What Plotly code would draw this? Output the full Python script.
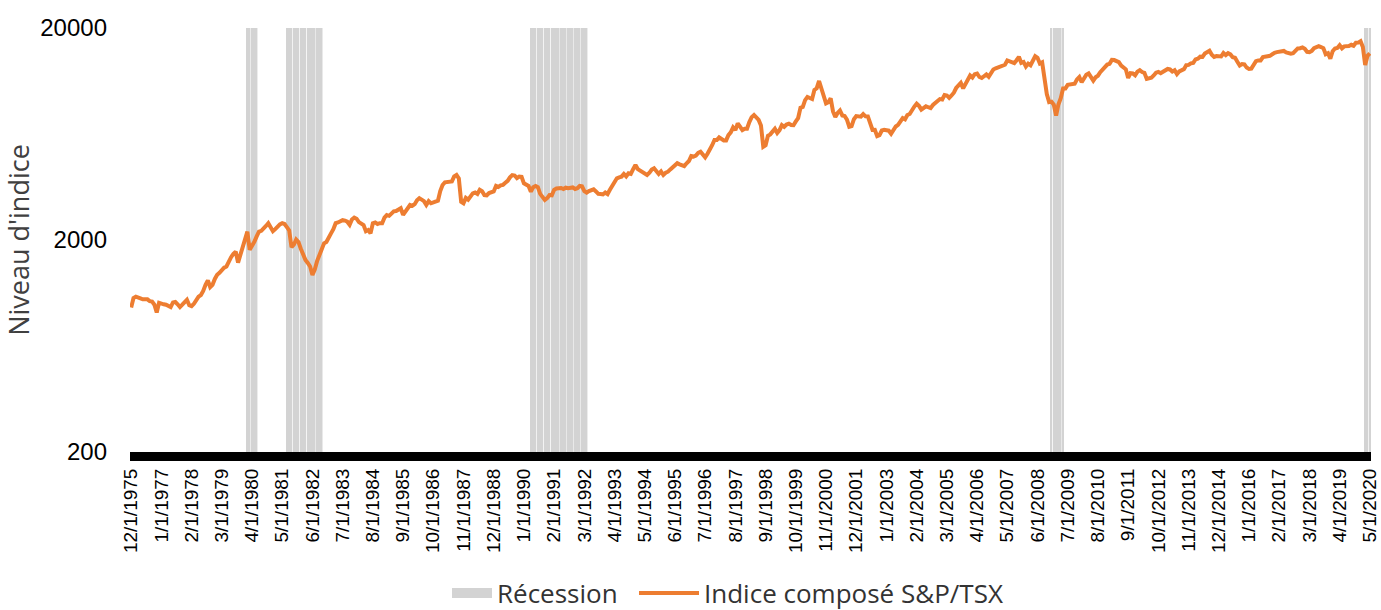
import plotly.graph_objects as go
import pandas as pd
import numpy as np

# ---- data (monthly S&P/TSX composite index, Dec 1975 - May 2020) ----
start_month = "1975-12-01"
y1975 = [960]
y1976 = [1065, 1080, 1075, 1060, 1050, 1045, 1050, 1030, 1025, 990, 910, 1012]
y1977 = [1000, 995, 990, 975, 965, 1015, 1020, 995, 965, 990, 1020, 1045]
y1978 = [985, 975, 1000, 1040, 1080, 1100, 1150, 1230, 1290, 1200, 1230, 1310]
y1979 = [1370, 1400, 1445, 1480, 1500, 1600, 1660, 1720, 1760, 1565, 1700, 1830]
y1980 = [2050, 2190, 1800, 1870, 1960, 2080, 2190, 2210, 2260, 2330, 2400, 2270]
y1981 = [2200, 2250, 2330, 2370, 2400, 2380, 2300, 2220, 1850, 1900, 2010, 1954]
y1982 = [1820, 1700, 1610, 1560, 1500, 1368, 1450, 1590, 1700, 1830, 1930, 1958]
y1983 = [2070, 2150, 2250, 2400, 2420, 2450, 2480, 2470, 2440, 2360, 2500, 2552]
y1984 = [2520, 2430, 2400, 2350, 2200, 2230, 2150, 2400, 2420, 2380, 2400, 2400]
y1985 = [2550, 2620, 2600, 2650, 2730, 2740, 2800, 2824, 2630, 2720, 2850, 2926]
y1986 = [2900, 2950, 3080, 3150, 3100, 3050, 2926, 3050, 2980, 3000, 3040, 3066]
y1987 = [3400, 3633, 3740, 3767, 3760, 3780, 3990, 4053, 3900, 3030, 2980, 3160]
y1988 = [3100, 3200, 3320, 3350, 3300, 3450, 3400, 3260, 3250, 3330, 3350, 3390]
y1989 = [3600, 3560, 3620, 3640, 3720, 3800, 3950, 4050, 4030, 3920, 3983, 3970]
y1990 = [3700, 3640, 3600, 3381, 3550, 3597, 3550, 3300, 3160, 3090, 3150, 3257]
y1991 = [3250, 3450, 3500, 3509, 3520, 3480, 3530, 3510, 3509, 3540, 3480, 3512]
y1992 = [3597, 3580, 3400, 3343, 3400, 3430, 3468, 3390, 3300, 3295, 3280, 3350]
y1993 = [3295, 3450, 3600, 3800, 3909, 3950, 3980, 4100, 3990, 4130, 4100, 4321]
y1994 = [4520, 4320, 4250, 4200, 4150, 4053, 4150, 4300, 4357, 4250, 4100, 4214]
y1995 = [4053, 4150, 4200, 4305, 4400, 4500, 4604, 4550, 4500, 4466, 4600, 4714]
y1996 = [4978, 4950, 5000, 5150, 5213, 5020, 4908, 5100, 5300, 5600, 5929, 5927]
y1997 = [6100, 6000, 5900, 5900, 6250, 6440, 6800, 6600, 7096, 6850, 6600, 6699]
y1998 = [6700, 7200, 7600, 7776, 7600, 7370, 6930, 5508, 5600, 6200, 6300, 6486]
y1999 = [6700, 6400, 6600, 6970, 6840, 7010, 7080, 6970, 6960, 7256, 7520, 8414]
y2000 = [8480, 9130, 9460, 9350, 9250, 10200, 10400, 11250, 10380, 9640, 8820, 8934]
y2001 = [9322, 8079, 7608, 7947, 8162, 7736, 7690, 7399, 6839, 6886, 7426, 7688]
y2002 = [7649, 7638, 7851, 7663, 7656, 7146, 6605, 6612, 6180, 6249, 6570, 6615]
y2003 = [6569, 6555, 6343, 6586, 6860, 6983, 7258, 7517, 7421, 7773, 7859, 8221]
y2004 = [8521, 8788, 8586, 8244, 8417, 8546, 8458, 8377, 8668, 8871, 9030, 9247]
y2005 = [9204, 9668, 9612, 9370, 9607, 9903, 10423, 10669, 11012, 10383, 10825, 11272]
y2006 = [11946, 11688, 12111, 12204, 11745, 11613, 11831, 12074, 11761, 12345, 12752, 12908]
y2007 = [13034, 13045, 13166, 13417, 14057, 13907, 13869, 13660, 14099, 14625, 13689, 13833]
y2008 = [13155, 13583, 13350, 13937, 14715, 14467, 13593, 13771, 11753, 9763, 8942, 8988]
y2009 = [8695, 7725, 8720, 9325, 10370, 10375, 10787, 10868, 10910, 10911, 11447, 11746]
y2010 = [11094, 11630, 12038, 12211, 11763, 11294, 11713, 11914, 12369, 12676, 12953, 13443]
y2011 = [13552, 14137, 14116, 13945, 13803, 13301, 12946, 12769, 11624, 12252, 12204, 11955]
y2012 = [12452, 12644, 12392, 12293, 11513, 11597, 11665, 11949, 12317, 12423, 12239, 12434]
y2013 = [12685, 12822, 12750, 12457, 12650, 12129, 12487, 12654, 12787, 13361, 13395, 13622]
y2014 = [13695, 14210, 14336, 14652, 14604, 15146, 15331, 15626, 14961, 14613, 14745, 14632]
y2015 = [14674, 15234, 14902, 15225, 15014, 14553, 14468, 13859, 13307, 13529, 13470, 13010]
y2016 = [12822, 12860, 13494, 13951, 14066, 14065, 14583, 14598, 14726, 14787, 15083, 15288]
y2017 = [15386, 15399, 15548, 15586, 15350, 15182, 15144, 15212, 15635, 16026, 16067, 16209]
y2018 = [15952, 15443, 15367, 15608, 16062, 16278, 16434, 16263, 16073, 15027, 15198, 14323]
y2019 = [15541, 15999, 16102, 16581, 16037, 16382, 16407, 16442, 16659, 16483, 17040, 17063]
y2020 = [17318, 16263, 13379, 14781, 15193]

# Recession periods (first month, last month)
recession_start = ["1980-02", "1981-07", "1990-04", "2008-12", "2020-03"]
recession_end = ["1980-06", "1982-10", "1992-04", "2009-05", "2020-05"]

y_tick_vals = [200, 2000, 20000]
y_tick_text = ["200", "2000", "20000"]
tick_every = 13

series_name = "Indice composé S&P/TSX"
recession_name = "Récession"
y_title = "Niveau d'indice"

# ---- build ----
tsx = (y1975 + y1976 + y1977 + y1978 + y1979 + y1980 + y1981 + y1982 + y1983 + y1984
       + y1985 + y1986 + y1987 + y1988 + y1989 + y1990 + y1991 + y1992 + y1993 + y1994
       + y1995 + y1996 + y1997 + y1998 + y1999 + y2000 + y2001 + y2002 + y2003 + y2004
       + y2005 + y2006 + y2007 + y2008 + y2009 + y2010 + y2011 + y2012 + y2013 + y2014
       + y2015 + y2016 + y2017 + y2018 + y2019 + y2020)
months = pd.date_range(start_month, periods=len(tsx), freq="MS")
labels = [f"{d.month}/{d.day}/{d.year}" for d in months]

rec_flag = []
for d in months:
    ym = d.strftime("%Y-%m")
    flag = 0
    for s, e in zip(recession_start, recession_end):
        if s <= ym <= e:
            flag = 1
    rec_flag.append(flag)

GRAY = "#D3D3D3"
ORANGE = "#ED7D31"
TICKFONT = "Arial, Liberation Sans, sans-serif"
HUMFONT = "Open Sans, Noto Sans, sans-serif"
LEG_Y = (610 - 593) / 610
LEG_FONT = dict(family=HUMFONT, size=26, color="#333333")

fig = go.Figure()
# recession columns on the (hidden) linear base axis
fig.add_trace(go.Bar(x=labels, y=rec_flag, yaxis="y", marker=dict(color=GRAY, line=dict(width=0)),
                     showlegend=False, hoverinfo="skip"))
fig.add_trace(go.Scatter(x=[None], y=[None], mode="lines", name=recession_name,
                         line=dict(color=GRAY, width=10), yaxis="y", legend="legend"))
# index line on the overlaying log axis (drawn on top)
fig.add_trace(go.Scatter(x=labels, y=tsx, mode="lines", name=series_name, yaxis="y2",
                         line=dict(color=ORANGE, width=4), legend="legend2"))

fig.update_layout(
    width=1381, height=610,
    margin=dict(l=130, r=10, t=28, b=158),
    paper_bgcolor="white", plot_bgcolor="white",
    bargap=0.33,
    showlegend=True,
    legend=dict(orientation="h", xref="container", x=447 / 1381, xanchor="left",
                yref="container", y=LEG_Y, yanchor="middle", font=LEG_FONT,
                itemwidth=40, bgcolor="rgba(0,0,0,0)"),
    legend2=dict(orientation="h", xref="container", x=634 / 1381, xanchor="left",
                 yref="container", y=LEG_Y, yanchor="middle", font=LEG_FONT,
                 itemwidth=60, bgcolor="rgba(0,0,0,0)"),
    xaxis=dict(type="category", range=[-0.5, len(labels) - 0.5], automargin=False,
               tickmode="array", tickvals=labels[::tick_every], ticktext=labels[::tick_every],
               tickangle=-90, tickfont=dict(family=TICKFONT, size=19, color="black"),
               showline=True, linecolor="black", linewidth=9, showgrid=False, ticks="",
               zeroline=False),
    yaxis=dict(range=[0, 1], visible=False, fixedrange=True, automargin=False),
    yaxis2=dict(overlaying="y", side="left", type="log", automargin=False,
                range=[np.log10(200), np.log10(20000)],
                tickmode="array", tickvals=y_tick_vals, ticktext=y_tick_text,
                tickfont=dict(family=TICKFONT, size=24, color="black"),
                showgrid=False, showline=False, zeroline=False, ticks="",
                ticklabelstandoff=22,
                title=dict(text=y_title, font=dict(family=HUMFONT, size=27, color="#404040"),
                           standoff=2)),
)

fig.write_html("out.html", config={"displayModeBar": False},
               post_script="document.body.style.margin='0';")
